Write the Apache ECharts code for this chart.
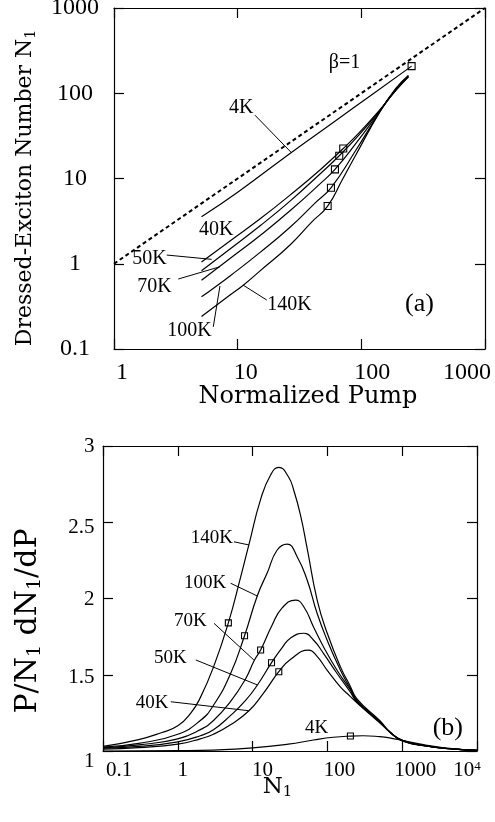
<!DOCTYPE html>
<html lang="en">
<head>
<meta charset="UTF-8">
<title>Dressed-exciton number vs pump</title>
<script src="https://cdn.jsdelivr.net/npm/echarts@6.0.0/dist/echarts.min.js"></script>
<style>
  html, body { margin: 0; padding: 0; background: #fff; }
  #main { width: 495px; height: 822px; }
</style>
</head>
<body>
<div id="main"></div>
<script>
// ---------- panel (a): N1 vs normalized pump (log-log) ----------
var beta1 = [[1, 1], [1000, 1000]];
var a4K   = [[5.1, 3.56], [10, 6.9], [26.5, 19.7], [60, 46], [120, 95], [255, 208]];
var a40K  = [[5.1, 1.05], [8.67, 1.85], [15.1, 3.34], [26.5, 6.38], [46.3, 12.6], [71.4, 22.5], [97.4, 35.2], [141, 64], [190, 108], [240, 156]];
var a50K  = [[5.1, 0.83], [8.67, 1.49], [15.1, 2.77], [26.5, 5.43], [46.3, 11.3], [66.3, 18.5], [95, 32], [141, 63], [190, 108], [240, 156]];
var a70K  = [[5.1, 0.64], [8.67, 1.15], [15.1, 2.13], [26.5, 4.18], [46.3, 8.65], [61.2, 12.8], [92, 26.7], [141, 61.5], [190, 110], [240, 158]];
var a100K = [[5.1, 0.41], [6.3, 0.51], [8.67, 0.72], [15.1, 1.35], [26.5, 2.68], [42.2, 5.15], [56.8, 7.78], [90, 21.3], [141, 60.5], [190, 112], [240, 160]];
var a140K = [[5.1, 0.24], [8.67, 0.43], [11.1, 0.56], [15.1, 0.82], [26.5, 1.66], [39.8, 3.1], [53.4, 4.75], [70, 9.6], [88.8, 18.1], [141, 60.5], [190, 114], [240, 162]];
var aMarks = [[255, 208], [71.4, 22.5], [66.3, 18.5], [61.2, 12.8], [56.8, 7.78], [53.4, 4.75]];
var aText = [['β=1', 73.7, 225], ['4K', 10.8, 66.4], ['40K', 6.77, 2.48], ['50K', 1.95, 1.126],
             ['70K', 2.14, 0.537], ['100K', 4.12, 0.16], ['140K', 26.5, 0.328], ['(a)', 298, 0.328]];
var aLeaders = [
  [[13.8, 55.3], [27.3, 20.0]],
  [[2.67, 1.265], [6.16, 1.126]],
  [[3.31, 0.662], [7.19, 0.922]],
  [[6.35, 0.182], [7.19, 0.548]],
  [[17.2, 0.375], [11.1, 0.56]]
];
var aPumpTicks = ['1', '10', '100', '1000'];
var aNTicks = ['0.1', '1', '10', '100', '1000'];

// ---------- panel (b): P/N1 dN1/dP vs N1 ----------
var b4K   = [[0.1, 1.0], [1, 1.002], [3, 1.006], [10, 1.02], [30, 1.045], [65, 1.072], [120, 1.09], [203, 1.098], [300, 1.1], [500, 1.094], [700, 1.085], [1000, 1.07], [2000, 1.04], [5000, 1.014], [10000, 1.005]];
var b40K  = [[0.1, 1.012], [0.3, 1.022], [1, 1.045], [2, 1.08], [3, 1.11], [5, 1.17], [8.93, 1.264], [14, 1.38], [22.4, 1.52], [32, 1.6], [56.4, 1.662], [72.8, 1.62], [99, 1.531], [149, 1.42], [200, 1.36], [250, 1.315], [500, 1.185], [700, 1.12], [1000, 1.066], [2000, 1.034], [5000, 1.012], [10000, 1.004]];
var b50K  = [[0.1, 1.018], [0.3, 1.03], [1, 1.06], [2, 1.1], [3, 1.14], [5, 1.23], [8, 1.33], [11.6, 1.433], [17.9, 1.579], [25, 1.68], [32, 1.74], [48.3, 1.772], [65, 1.728], [88.6, 1.64], [134, 1.51], [200, 1.39], [250, 1.32], [500, 1.19], [700, 1.12], [1000, 1.068], [2000, 1.035], [5000, 1.012], [10000, 1.004]];
var b70K  = [[0.1, 1.02], [0.3, 1.04], [1, 1.08], [2, 1.14], [3, 1.2], [5, 1.32], [8, 1.47], [10.6, 1.597], [12.8, 1.662], [18, 1.82], [25, 1.94], [37.4, 1.99], [48.3, 1.946], [65, 1.815], [88.6, 1.684], [134, 1.531], [200, 1.405], [250, 1.325], [500, 1.19], [700, 1.12], [1000, 1.07], [2000, 1.035], [5000, 1.012], [10000, 1.004]];
var b100K = [[0.1, 1.025], [0.3, 1.05], [1, 1.11], [2, 1.2], [3, 1.3], [5, 1.5], [7.8, 1.756], [11.6, 2.02], [15.6, 2.165], [21.3, 2.318], [29, 2.357], [39.4, 2.274], [53.6, 2.121], [72.8, 1.903], [99, 1.728], [149, 1.531], [200, 1.415], [250, 1.33], [500, 1.195], [700, 1.12], [1000, 1.07], [2000, 1.035], [5000, 1.012], [10000, 1.004]];
var b140K = [[0.1, 1.03], [0.3, 1.075], [0.6, 1.12], [1, 1.165], [1.5, 1.25], [2, 1.35], [3, 1.55], [4.74, 1.84], [7, 2.15], [9, 2.36], [12.8, 2.65], [17.4, 2.81], [22.4, 2.86], [30, 2.8], [36, 2.7], [44, 2.54], [54, 2.32], [73, 1.99], [99, 1.775], [150, 1.55], [200, 1.43], [250, 1.34], [500, 1.2], [700, 1.12], [1000, 1.07], [2000, 1.035], [5000, 1.012], [10000, 1.004]];
var bMarks = [[203, 1.098], [22.4, 1.52], [17.9, 1.579], [12.8, 1.662], [7.8, 1.756], [4.74, 1.84]];
var bText = [['140K', 2.9, 2.395], ['100K', 2.36, 2.1], ['70K', 1.49, 1.848], ['50K', 0.806, 1.608],
             ['40K', 0.46, 1.313], ['4K', 72.9, 1.149], ['(b)', 4142, 1.149]];
var bLeaders = [
  [[5.63, 2.372], [8.93, 2.351]],
  [[5.09, 2.1], [11.6, 2.016]],
  [[3.05, 1.837], [10.4, 1.597]],
  [[1.74, 1.597], [11.6, 1.433]],
  [[0.806, 1.323], [8.93, 1.264]]
];
var bNTicks = ['0.1', '1', '10', '100', '1000', '10^4'];
var bRatioTicks = ['1', '1.5', '2', '2.5', '3'];

// ---------- styling ----------
var serif = 'Liberation Serif, Times New Roman, serif';
var titleFont = 'DejaVu Serif, serif';

// small per-label nudges to sit the tick labels like the original
var aPumpShift = [8, 8, 11, -18];
var bNShift = [16, 5, 10, 12, 13, 0];
var bRatioShift = [10, 3, 1, 5, 0];

function hRich(shifts, size) {
  var r = {};
  shifts.forEach(function (s, i) {
    r['s' + i] = { fontFamily: serif, fontSize: size, lineHeight: size, color: '#000',
      padding: s >= 0 ? [0, 0, 0, 2 * s] : [0, -2 * s, 0, 0] };
  });
  return r;
}
function vRich(shifts, size) {
  var r = {};
  shifts.forEach(function (s, i) {
    r['s' + i] = { fontFamily: serif, fontSize: size, lineHeight: size, color: '#000', padding: [2 * s, 0, 0, 0] };
  });
  return r;
}

var bXRich = hRich(bNShift, 21);
bXRich.sup = { fontFamily: serif, fontSize: 13, lineHeight: 6, verticalAlign: 'top', color: '#000', padding: [0, 20, 0, 0] };

var lineCol = '#000';
function frameAxis(extra) {
  var ax = {
    axisLine: { show: true, onZero: false, lineStyle: { color: lineCol, width: 1.2 } },
    axisTick: { show: true, inside: true, length: 10, lineStyle: { color: lineCol, width: 1.2 } },
    minorTick: { show: false },
    splitLine: { show: false },
    axisLabel: { show: false },
    nameMoveOverlap: false
  };
  for (var k in extra) ax[k] = extra[k];
  return ax;
}

function curve(data, gi) {
  return { type: 'line', xAxisIndex: gi * 2, yAxisIndex: gi * 2, data: data, showSymbol: false,
    smooth: 0.5, silent: true, z: 3,
    lineStyle: { color: lineCol, width: 1.2 } };
}
function marks(data, gi, size) {
  return { type: 'scatter', xAxisIndex: gi * 2, yAxisIndex: gi * 2, data: data, symbol: 'rect',
    symbolSize: size, silent: true, z: 5,
    itemStyle: { color: 'rgba(0,0,0,0)', borderColor: lineCol, borderWidth: 1.1, opacity: 1 } };
}
function texts(rows, gi, size) {
  return { type: 'scatter', xAxisIndex: gi * 2, yAxisIndex: gi * 2, symbolSize: 1, silent: true, z: 6,
    itemStyle: { color: 'rgba(0,0,0,0)', opacity: 1 },
    data: rows.map(function (t) {
      var big = t[0].charAt(0) === '(';
      return { name: t[0], value: [t[1], t[2]], label: { fontSize: big ? 26 : size } };
    }),
    label: { show: true, position: [0, 0], align: 'center', verticalAlign: 'middle', formatter: '{b}',
      color: '#000', opacity: 1, fontFamily: serif, fontSize: size } };
}
function leaders(segs, gi) {
  return { type: 'lines', coordinateSystem: 'cartesian2d', xAxisIndex: gi * 2, yAxisIndex: gi * 2,
    silent: true, z: 4, data: segs.map(function (c) { return { coords: c }; }),
    lineStyle: { color: lineCol, width: 1, opacity: 1 } };
}

var chart = echarts.init(document.getElementById('main'), null, { renderer: 'canvas' });

var option = {
  animation: false,
  backgroundColor: '#fff',
  grid: [
    { left: 114, top: 8, width: 371, height: 341, containLabel: false, outerBoundsMode: 'none' },
    { left: 103, top: 446, width: 374, height: 305, containLabel: false, outerBoundsMode: 'none' }
  ],
  xAxis: [
    frameAxis({ gridIndex: 0, type: 'log', logBase: 10, min: 1, max: 1000, position: 'bottom',
      name: 'Normalized Pump', nameLocation: 'middle', nameGap: 36,
      nameTextStyle: { fontFamily: titleFont, fontSize: 24, lineHeight: 24, color: '#000', padding: [0, 0, 0, 17] },
      axisLabel: { show: true, margin: 12, showMinLabel: true, showMaxLabel: true,
        formatter: function (v) { var i = Math.round(Math.log10(v)); return '{s' + i + '|' + aPumpTicks[i] + '}'; },
        rich: hRich(aPumpShift, 24) } }),
    frameAxis({ gridIndex: 0, type: 'log', logBase: 10, min: 1, max: 1000, position: 'top' }),
    frameAxis({ gridIndex: 1, type: 'log', logBase: 10, min: 0.1, max: 10000, position: 'bottom',
      name: 'N{sub|1}', nameLocation: 'middle', nameGap: 23,
      nameTextStyle: { fontFamily: titleFont, fontSize: 23, lineHeight: 26, color: '#000', padding: [0, 25, 0, 0],
        rich: { sub: { fontFamily: titleFont, fontSize: 15, lineHeight: 10, verticalAlign: 'bottom', color: '#000' } } },
      axisLabel: { show: true, margin: 9, showMinLabel: true, showMaxLabel: true,
        formatter: function (v) {
          var i = Math.round(Math.log10(v)) + 1;
          var parts = bNTicks[i].split('^');
          return '{s' + i + '|' + parts[0] + '}' + (parts[1] ? '{sup|' + parts[1] + '}' : '');
        },
        rich: bXRich } }),
    frameAxis({ gridIndex: 1, type: 'log', logBase: 10, min: 0.1, max: 10000, position: 'top' })
  ],
  yAxis: [
    frameAxis({ gridIndex: 0, type: 'log', logBase: 10, min: 0.1, max: 1000, position: 'left',
      name: 'Dressed-Exciton Number N{sub|1}', nameLocation: 'middle', nameRotate: 90, nameGap: 76,
      nameTextStyle: { fontFamily: titleFont, fontSize: 22, lineHeight: 26, color: '#000', padding: [0, 19, 0, 0],
        rich: { sub: { fontFamily: titleFont, fontSize: 14, lineHeight: 10, verticalAlign: 'bottom', color: '#000' } } },
      axisLabel: { show: true, margin: 39, align: 'center', padding: [14, 0, 0, 0], showMinLabel: true, showMaxLabel: true,
        fontFamily: serif, fontSize: 24, color: '#000',
        formatter: function (v) { return aNTicks[Math.round(Math.log10(v)) + 1]; } } }),
    frameAxis({ gridIndex: 0, type: 'log', logBase: 10, min: 0.1, max: 1000, position: 'right' }),
    frameAxis({ gridIndex: 1, type: 'value', min: 1, max: 3, interval: 0.5, position: 'left',
      name: 'P/N{sub|1} dN{sub|1}/dP', nameLocation: 'middle', nameRotate: 90, nameGap: 58,
      nameTextStyle: { fontFamily: titleFont, fontSize: 30, lineHeight: 34, color: '#000', padding: [0, 45, 0, 0],
        rich: { sub: { fontFamily: titleFont, fontSize: 19, lineHeight: 12, verticalAlign: 'bottom', color: '#000' } } },
      axisLabel: { show: true, margin: 8.5, showMinLabel: true, showMaxLabel: true,
        formatter: function (v) { var i = Math.round((v - 1) / 0.5); return '{s' + i + '|' + bRatioTicks[i] + '}'; },
        rich: vRich(bRatioShift, 21) } }),
    frameAxis({ gridIndex: 1, type: 'value', min: 1, max: 3, interval: 0.5, position: 'right' })
  ],
  series: [
    { type: 'line', xAxisIndex: 0, yAxisIndex: 0, data: beta1, showSymbol: false, silent: true, z: 2,
      lineStyle: { color: lineCol, width: 2, type: [4, 3] } },
    curve(a4K, 0), curve(a40K, 0), curve(a50K, 0), curve(a70K, 0), curve(a100K, 0), curve(a140K, 0),
    marks(aMarks, 0, 7),
    leaders(aLeaders, 0),
    texts(aText, 0, 20),

    curve(b4K, 1), curve(b40K, 1), curve(b50K, 1), curve(b70K, 1), curve(b100K, 1), curve(b140K, 1),
    marks(bMarks, 1, 6),
    leaders(bLeaders, 1),
    texts(bText, 1, 19)
  ]
};

chart.setOption(option);
</script>
</body>
</html>
